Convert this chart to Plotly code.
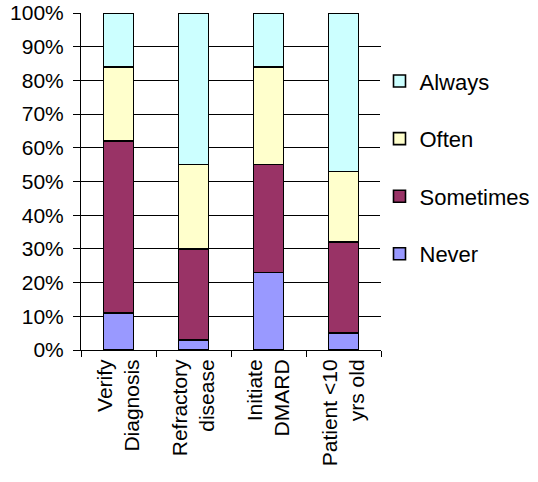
import plotly.graph_objects as go

categories = ["Verify<br>Diagnosis", "Refractory<br>disease", "Initiate<br>DMARD", "Patient <10<br>yrs old"]
never = [11, 3, 23, 5]
sometimes = [51, 27, 32, 27]
often = [22, 25, 29, 21]
always = [16, 45, 16, 47]

series = [
    ("Never", never, "#9999FF", 4),
    ("Sometimes", sometimes, "#993366", 3),
    ("Often", often, "#FFFFCC", 2),
    ("Always", always, "#CCFFFF", 1),
]

fig = go.Figure()
for name, vals, color, rank in series:
    fig.add_trace(go.Bar(
        x=categories, y=vals, name=name, legendgroup=name, legendrank=rank,
        marker=dict(color=color, line=dict(color="black", width=1.6)),
    ))

family = "Liberation Sans, Arial, sans-serif"
font = dict(family=family, size=21, color="black")

fig.update_layout(
    barmode="stack",
    bargap=0.6,
    width=538, height=482,
    margin=dict(l=81, r=157, t=13, b=132, autoexpand=False),
    paper_bgcolor="white",
    plot_bgcolor="white",
    font=font,
    legend=dict(
        x=0.995, y=0.86, xanchor="left", yanchor="top",
        traceorder="grouped", tracegroupgap=26,
        font=dict(family=family, size=22, color="black"),
        itemwidth=30,
    ),
    xaxis=dict(
        tickangle=-90,
        automargin=False,
        showline=True, linecolor="black", linewidth=1,
        ticks="outside", ticklen=6, tickcolor="black",
        tickson="boundaries",
        showgrid=False,
        tickfont=font,
    ),
    yaxis=dict(
        range=[0, 100],
        automargin=False,
        tickvals=list(range(0, 101, 10)),
        ticktext=[f"{v}%" for v in range(0, 101, 10)],
        showline=True, linecolor="black", linewidth=1,
        ticks="outside", ticklen=7, tickcolor="black",
        ticklabelstandoff=5,
        showgrid=True, gridcolor="black", gridwidth=1,
        zeroline=False,
        tickfont=font,
    ),
)

fig.write_html("out.html")
